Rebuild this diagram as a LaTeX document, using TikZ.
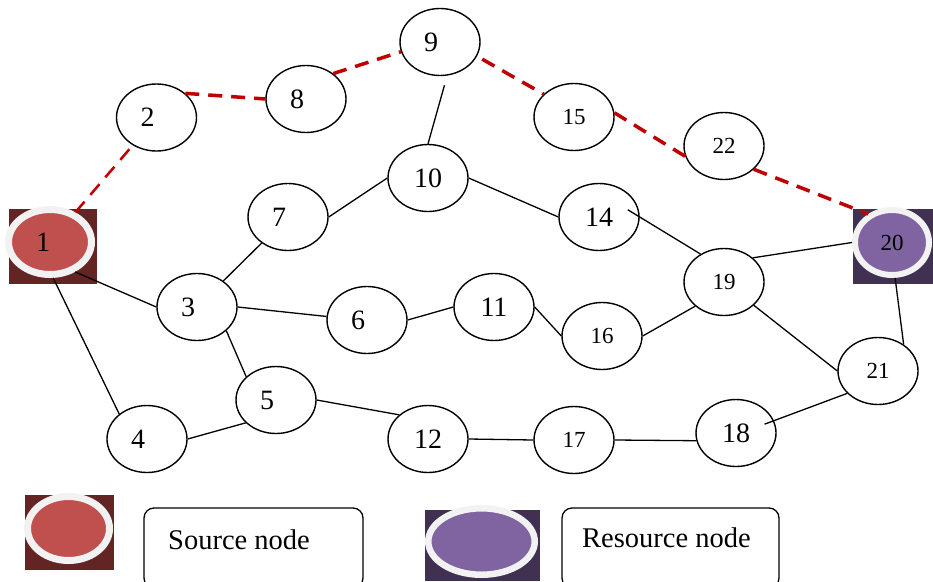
\documentclass[tikz,border=0pt]{standalone}
\usepackage{fontspec}
\setmainfont{Liberation Serif}
\usetikzlibrary{shapes.geometric}
\definecolor{srcdark}{HTML}{632523}
\definecolor{srcfill}{HTML}{C0504D}
\definecolor{resdark}{HTML}{403152}
\definecolor{resfill}{HTML}{8064A2}
\definecolor{ringcol}{HTML}{F2F2F2}
\definecolor{pathred}{HTML}{C00000}
\begin{document}
\begin{tikzpicture}[x=1pt,y=-1pt,
  nd/.style={ellipse, draw, line width=1.4pt, inner sep=0pt, minimum width=80pt, minimum height=67pt, font=\fontsize{28}{28}\selectfont},
  sm/.style={font=\fontsize{23}{23}\selectfont},
  sd/.style={execute at end node={\kern18pt}},
  sqbox/.style={rectangle, inner sep=0pt, draw=none},
  special/.style={ellipse, inner sep=0pt, draw=ringcol},
  edge/.style={line width=1.3pt, black},
  rededge/.style={line width=3.5pt, pathred, dash pattern=on 14pt off 9pt},
  legbox/.style={rectangle, draw, line width=1.3pt, rounded corners=10pt, inner sep=0pt},
  legtext/.style={anchor=base west, inner sep=0pt, font=\fontsize{28.5}{28.5}\selectfont}
]
\useasboundingbox (0,0) rectangle (933,581);

% special nodes
\node[sqbox, fill=srcdark, minimum width=88pt, minimum height=75pt] (sq1) at (53,246.5) {};
\node[special, fill=srcfill, line width=7pt, minimum width=83pt, minimum height=65pt, font=\fontsize{28}{28}\selectfont, execute at end node={\kern14pt}] (n1) at (50,242) {1};
\node[sqbox, fill=resdark, minimum width=80pt, minimum height=75pt] (sq20) at (893,246.5) {};
\node[special, fill=resfill, line width=6pt, minimum width=74pt, minimum height=65pt, font=\fontsize{23}{23}\selectfont] (n20) at (892,242.5) {20};

% ordinary nodes
\node[nd, sd] (n2) at (156.5,117.5) {2};
\node[nd, sd] (n8) at (306,99) {8};
\node[nd, sd] (n9) at (440,42) {9};
\node[nd, sm] (n15) at (574,117) {15};
\node[nd, sm] (n22) at (724,146) {22};
\node[nd] (n10) at (428,178) {10};
\node[nd, sd] (n7) at (288,217) {7};
\node[nd] (n14) at (599,217) {14};
\node[nd, sm] (n19) at (724,282) {19};
\node[nd, sd] (n3) at (197,307) {3};
\node[nd, sd] (n6) at (367,320) {6};
\node[nd] (n11) at (494,307) {11};
\node[nd, sm] (n16) at (602,336) {16};
\node[nd, sm] (n21) at (878,371) {21};
\node[nd, sd] (n5) at (276,400) {5};
\node[nd, sd] (n4) at (147,439) {4};
\node[nd] (n12) at (428,439) {12};
\node[nd, sm] (n17) at (574,440) {17};
\node[nd] (n18) at (736,433) {18};

% red dashed path
\draw[rededge, line width=2.5pt] (n1) -- (n2);
\draw[rededge] (n2.40) -- (n8.west);
\draw[rededge] (n8.43) -- (n9.194);
\draw[rededge, shorten <=6pt] (n9.339) -- (n15.143);
\draw[rededge] (n15.6) -- (n22.195);
\draw[rededge] (n22.322) -- (n20.130);

% black edges
\draw[edge, shorten <=10pt] (n9.282) -- (n10.north);
\draw[edge] (n7.east) -- (n10.west);
\draw[edge] (n10.east) -- (n14.west);
\draw[edge, shorten <=-14pt] (n14.east) -- (n19.130);
\draw[edge] (n19.40) -- (n20.west);
\draw[edge] (n3) -- (n7);
\draw[edge] (n1.310) -- (n3.west);
\draw[edge] (n1.275) -- (n4.138);
\draw[edge] (n3.east) -- (n6.175);
\draw[edge] (n6.east) -- (n11.west);
\draw[edge] (n11.east) -- (n16.west);
\draw[edge] (n16.east) -- (n19.220);
\draw[edge] (n19.322) -- (n21.west);
\draw[edge] (n20.275) -- (n21.46);
\draw[edge] (n3.321) -- (n5.142);
\draw[edge] (n4.east) -- (n5.217);
\draw[edge] (n5.east) -- (n12.140);
\draw[edge] (n12.east) -- (n17.west);
\draw[edge] (n17.east) -- (n18.191);
\draw[edge, shorten <=-10pt] (n18.18) -- (n21.216);

% legend
\node[sqbox, fill=srcdark, minimum width=89pt, minimum height=75pt] (lsq1) at (69.5,532.5) {};
\node[special, fill=srcfill, line width=7pt, minimum width=82pt, minimum height=64pt] (lel1) at (68.5,528.5) {};
\node[legbox, minimum width=219pt, minimum height=80pt] (lbox1) at (253.5,548) {};
\node[legtext] (ltext1) at (168,549) {Source node};

\node[sqbox, fill=resdark, minimum width=115pt, minimum height=71pt] (lsq2) at (482.5,545.5) {};
\node[special, fill=resfill, line width=6.5pt, minimum width=106.5pt, minimum height=66.5pt] (lel2) at (481.5,541.5) {};
\node[legbox, minimum width=217pt, minimum height=80pt] (lbox2) at (670.5,548) {};
\node[legtext] (ltext2) at (582,547) {Resource node};
\end{tikzpicture}
\end{document}
